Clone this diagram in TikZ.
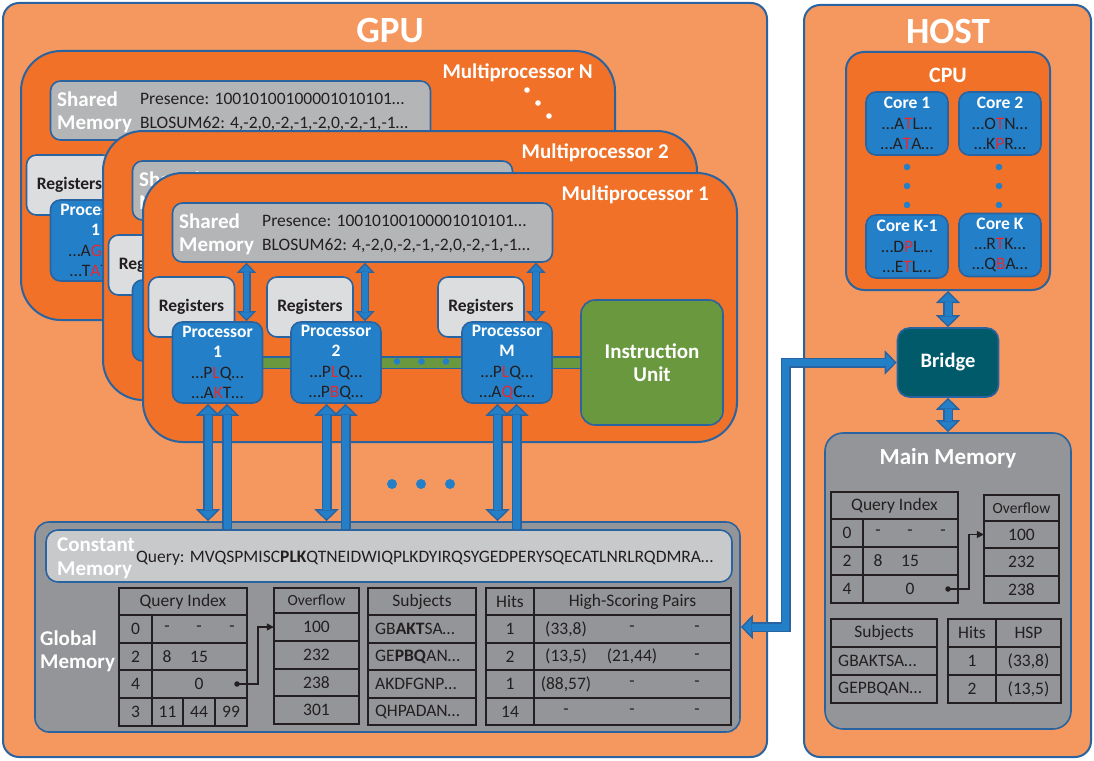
\documentclass[tikz,border=0pt]{standalone}
\usepackage{fontspec}
\setmainfont{Carlito}
\usetikzlibrary{arrows.meta}
\definecolor{panelor}{HTML}{F5985F}
\definecolor{mpor}{HTML}{F17128}
\definecolor{edgeblue}{HTML}{2A64A0}
\definecolor{procblue}{HTML}{2380C8}
\definecolor{shgray}{HTML}{B4B5B7}
\definecolor{reggray}{HTML}{DCDDDF}
\definecolor{memgray}{HTML}{939598}
\definecolor{constgray}{HTML}{C8C9CB}
\definecolor{iugreen}{HTML}{69983E}
\definecolor{bridgeteal}{HTML}{005A6A}
\definecolor{hlred}{HTML}{E8282F}
\definecolor{ink}{HTML}{231F20}
\newcommand{\hl}[1]{\textcolor{hlred}{#1}}
\newcommand{\txtfont}{\fontsize{17.5pt}{20.3pt}\selectfont}
\newcommand{\headfont}{\fontsize{21pt}{23pt}\selectfont\bfseries}
\newcommand{\ofont}{\fontsize{15.5pt}{17pt}\selectfont}
\tikzset{
  bigtip/.tip={Triangle[length=12pt,width=24pt,line width=1.4pt,fill=procblue]},
  smalltip/.tip={Triangle[length=10pt,width=19pt,line width=1.2pt,fill=procblue]},
  box/.style={draw=edgeblue,line width=1.6pt,rounded corners=10pt,inner sep=0pt},
  panel/.style={box,fill=panelor,line width=2pt,rounded corners=16pt},
  mpbox/.style={box,fill=mpor,line width=2pt,rounded corners=40pt,minimum width=594pt,minimum height=269pt},
  shbox/.style={box,fill=shgray,minimum width=380pt,minimum height=59pt},
  regbox/.style={box,fill=reggray,minimum width=86pt,minimum height=60pt,font=\txtfont\bfseries,text=ink},
  procbox/.style={box,fill=procblue,minimum width=90pt,minimum height=81pt,font=\txtfont,text=white,align=center},
  corebox/.style={box,fill=procblue,minimum width=82pt,minimum height=63pt,font=\txtfont,text=white,align=center},
  wtxt/.style={font=\headfont,text=white,inner sep=0pt},
  txt/.style={font=\txtfont,text=ink,inner sep=0pt},
  tline/.style={draw=ink,line width=1.5pt},
  bus/.style={draw=edgeblue,line width=1.5pt,double=iugreen,double distance=10pt},
  ptr/.style={draw=ink,line width=1.5pt,-{Triangle[length=7pt,width=7pt]}},
  pdot/.style={circle,fill=ink,inner sep=0pt,minimum size=5.5pt},
  fat/.style={draw=edgeblue,line width=10pt,-bigtip,postaction={draw=procblue,line width=7pt,-,shorten >=11pt}},
  fatboth/.style={draw=edgeblue,line width=10pt,bigtip-bigtip,postaction={draw=procblue,line width=7pt,-,shorten <=11pt,shorten >=11pt}},
  thinboth/.style={draw=edgeblue,line width=8pt,smalltip-smalltip,postaction={draw=procblue,line width=5.5pt,-,shorten <=9pt,shorten >=9pt}}
}
\begin{document}
\begin{tikzpicture}[x=1pt,y=-1pt]
\path[use as bounding box,fill=white] (0,0) rectangle (1094,760);
\node[panel,minimum width=764pt,minimum height=754pt] (gpu) at (385,380) {};
\node[panel,minimum width=287pt,minimum height=752pt] (host) at (947.5,381) {};
\node[wtxt,font=\fontsize{37pt}{40pt}\selectfont\bfseries] (gputitle) at (390,31) {GPU};
\node[wtxt,font=\fontsize{37pt}{40pt}\selectfont\bfseries] (hosttitle) at (948,31) {HOST};
\foreach \dx/\dy/\lab/\lx/\m/\qa/\qb/\last/\st in {-122/-122/N/715/n/A\hl{G}T/T\hl{A}T/1/1,-40/-42/2/709/b/P\hl{L}Q/A\hl{K}T/1/0,0/0/1/709/a/P\hl{L}Q/A\hl{K}T/3/1}{
  \begin{scope}[shift={(\dx,\dy)}]
    \node[mpbox] (mp\m) at (440,307.5) {};
    \node[wtxt,anchor=east] (mpt\m) at (\lx,195) {Multiprocessor \lab};
    \node[shbox] (sh\m) at (362.5,232.5) {};
    \node[wtxt,anchor=west] (sht\m) at (179,221) {Shared};
    \node[wtxt,anchor=west] (shm\m) at (179,246) {Memory};
    \ifnum\st=1
      \node[txt,anchor=west] (pres\m) at (262,221) {Presence: 10010100100001010101…};
      \node[txt,anchor=west] (blos\m) at (262,246) {BLOSUM62: 4,-2,0,-2,-1,-2,0,-2,-1,-1…};
    \fi
    \coordinate (c\m-1) at (217.5,362.5);
    \coordinate (c\m-iu) at (652,362.5);
    \draw[bus] (c\m-1) -- (c\m-iu);
    \foreach \x in {397,421.5,446}
      \fill[procblue] (\x,361.5) circle (3.3pt);
    \foreach \j/\px/\num/\sa/\sb in {1/217.5/1/\qa/\qb,2/336/2/P\hl{L}Q/P\hl{B}Q,3/507/M/P\hl{L}Q/A\hl{Q}C}{
      \ifnum\j>\last\relax\else
        \node[regbox] (r\m-\j) at (\px-26,307) {Registers};
        \node[procbox] (p\m-\j) at (\px,362.5) {\textbf{Processor}\\\textbf{\num}\\\textcolor{ink}{…\sa…}\\\textcolor{ink}{…\sb…}};
        \draw[thinboth] ([xshift=29pt]p\m-\j.north) -- ([xshift=29pt]p\m-\j.north |- sh\m.south);
      \fi
    }
    \ifnum\last=3
      \node[box,fill=iugreen,rounded corners=14pt,minimum width=142pt,minimum height=125pt,font=\headfont,text=white,align=center] (iu\m) at (c\m-iu) {Instruction\\Unit};
    \fi
  \end{scope}
}
\foreach \x/\y in {527/90,538/103,549/116}
  \fill[white] (\x,\y) circle (2.8pt);
\node[box,fill=memgray,rounded corners=14pt,minimum width=705pt,minimum height=210pt] (gmem) at (387.5,627) {};
\node[box,fill=constgray,rounded corners=12pt,minimum width=686pt,minimum height=52pt] (cmem) at (389,556) {};
\node[wtxt,anchor=west] (cmt) at (57,545) {Constant};
\node[wtxt,anchor=west] (cmm) at (57,570) {Memory};
\node[txt,anchor=west] (query) at (136,558) {Query: MVQSPMISC\textbf{PLK}QTNEIDWIQPLKDYIRQSYGEDPERYSQECATLNRLRQDMRA…};
\node[wtxt,anchor=west] (gmt) at (40,638) {Global};
\node[wtxt,anchor=west] (gmm) at (40,663) {Memory};
\draw[tline] (119,588) rectangle (247,726);
\foreach \y in {615,643,670,698} \draw[tline] (119,\y) -- (247,\y);
\draw[tline] (152,615) -- (152,726) (183,698) -- (183,726) (215,698) -- (215,726);
\node[txt] (gqih) at (183,601.5) {Query Index};
\foreach \y/\k in {629/0,656.5/2,684/4,712/3} \node[txt] (gqk\k) at (135.5,\y) {\k};
\foreach \x in {167,199,232} \node[txt] (gqd\x) at (\x,629) {-};
\node[txt] (gq2a) at (167,656.5) {8};
\node[txt] (gq2b) at (199,656.5) {15};
\node[txt] (gq4a) at (199,684) {0};
\node[pdot] (gqdot) at (237,684) {};
\foreach \x/\v in {167.5/11,199/44,231/99} \node[txt] (gq3\v) at (\x,712) {\v};
\draw[tline] (274,588) rectangle (359,724);
\foreach \y in {613,641,669,696} \draw[tline] (274,\y) -- (359,\y);
\node[txt,font=\ofont] (gofh) at (316.5,600.5) {Overflow};
\foreach \y/\v/\k in {627/100/1,655/232/2,682.5/238/3,710/301/4} \node[txt,minimum width=85pt] (gof\k) at (316.5,\y) {\v};
\draw[ptr] (gqdot.center) -- ++(21,0) |- (gof1.west);
\draw[tline] (368,588) rectangle (476,725);
\foreach \y in {615,643,670,698} \draw[tline] (368,\y) -- (476,\y);
\node[txt] (gsubh) at (422,601.5) {Subjects};
\foreach \y/\s/\k in {629/GB\textbf{AKT}SA…/1,656.5/GE\textbf{PBQ}AN…/2,684/AKDFGNP…/3,712/QHPADAN…/4} \node[txt,anchor=west] (gsub\k) at (375,\y) {\s};
\draw[tline] (486,588) rectangle (731,725);
\foreach \y in {615,643,670,698} \draw[tline] (486,\y) -- (731,\y);
\draw[tline] (534,588) -- (534,725);
\node[txt] (ghith) at (510,601.5) {Hits};
\node[txt] (ghsph) at (632.5,601.5) {High-Scoring Pairs};
\foreach \y/\h/\a/\b/\c/\k in {629/1/{(33,8)}/-/-/1,656.5/2/{(13,5)}/{(21,44)}/-/2,684/1/{(88,57)}/-/-/3,712/14/-/-/-/4}{
  \node[txt] (gh\k) at (510,\y) {\h};
  \node[txt] (gha\k) at (566,\y) {\a};
  \node[txt] (ghb\k) at (632,\y) {\b};
  \node[txt] (ghc\k) at (697,\y) {\c};
}
\foreach \j in {1,2,3}{
  \draw[fatboth] ([xshift=-9.5pt]pa-\j.south) -- ([xshift=-9.5pt]pa-\j.south |- gmem.north);
  \draw[fat] ([xshift=9.5pt]pa-\j.south |- cmem.north) -- ([xshift=9.5pt]pa-\j.south);
}
\foreach \x in {392,421,450} \fill[procblue] (\x,484) circle (5pt);
\node[box,fill=mpor,line width=2pt,rounded corners=18pt,minimum width=204pt,minimum height=238pt] (cpu) at (948,171) {};
\node[wtxt,font=\fontsize{22pt}{24pt}\selectfont\bfseries] (cput) at (948,75) {CPU};
\node[corebox] (core1) at (907,123.5) {\textbf{Core 1}\\\textcolor{ink}{…A\hl{T}L…}\\\textcolor{ink}{…A\hl{T}A…}};
\node[corebox] (core2) at (1000,123.5) {\textbf{Core 2}\\\textcolor{ink}{…O\hl{T}N…}\\\textcolor{ink}{…K\hl{P}R…}};
\node[corebox] (corek1) at (907,246.5) {\textbf{Core K-1}\\\textcolor{ink}{…D\hl{P}L…}\\\textcolor{ink}{…E\hl{T}L…}};
\node[corebox] (corek) at (1000,245) {\textbf{Core K}\\\textcolor{ink}{…R\hl{T}K…}\\\textcolor{ink}{…Q\hl{B}A…}};
\foreach \x in {907,999} \foreach \y in {167,186,205} \fill[procblue] (\x,\y) circle (3.3pt);
\node[box,fill=bridgeteal,rounded corners=12pt,minimum width=101pt,minimum height=69pt,font=\fontsize{20.5pt}{22pt}\selectfont\bfseries,text=white] (bridge) at (948,362.5) {Bridge};
\node[box,fill=memgray,rounded corners=18pt,minimum width=246pt,minimum height=296pt] (mmem) at (948,581) {};
\node[wtxt,font=\fontsize{23pt}{25pt}\selectfont\bfseries] (mmt) at (948,458) {Main Memory};
\draw[fatboth] (bridge.north) -- (bridge.north |- cpu.south);
\draw[fatboth] (bridge.south) -- (bridge.south |- mmem.north);
\draw[fatboth] (gmem.east) -- ++(45,0) |- (bridge.west);
\draw[tline] (831,492) rectangle (958,603);
\foreach \y in {519,547,575} \draw[tline] (831,\y) -- (958,\y);
\draw[tline] (863,519) -- (863,603);
\node[txt] (mqih) at (894.5,505.5) {Query Index};
\foreach \y/\k in {533/0,561/2,589/4} \node[txt] (mqk\k) at (847,\y) {\k};
\foreach \x in {878,910,943} \node[txt] (mqd\x) at (\x,533) {-};
\node[txt] (mq2a) at (878,561) {8};
\node[txt] (mq2b) at (910,561) {15};
\node[txt] (mq4a) at (910,589) {0};
\node[pdot] (mqdot) at (948,589) {};
\draw[tline] (984,495) rectangle (1059,603);
\foreach \y in {521,548,576} \draw[tline] (984,\y) -- (1059,\y);
\node[txt,font=\ofont] (mofh) at (1021.5,508) {Overflow};
\foreach \y/\v/\k in {534.5/100/1,562/232/2,589.5/238/3} \node[txt,minimum width=75pt] (mof\k) at (1021.5,\y) {\v};
\draw[ptr] (mqdot.center) -- ++(21,0) |- (mof1.west);
\draw[tline] (831,619) rectangle (937,703);
\foreach \y in {647,675} \draw[tline] (831,\y) -- (937,\y);
\node[txt] (msubh) at (884,633) {Subjects};
\node[txt,anchor=west] (msub1) at (838,661) {GBAKTSA…};
\node[txt,anchor=west] (msub2) at (838,689) {GEPBQAN…};
\draw[tline] (948,619) rectangle (1061,703);
\foreach \y in {647,675} \draw[tline] (948,\y) -- (1061,\y);
\draw[tline] (996,619) -- (996,703);
\node[txt] (mhith) at (972,633) {Hits};
\node[txt] (mhsph) at (1028.5,633) {HSP};
\node[txt] (mh1) at (972,661) {1};
\node[txt] (mha1) at (1028.5,661) {(33,8)};
\node[txt] (mh2) at (972,689) {2};
\node[txt] (mha2) at (1028.5,689) {(13,5)};
\end{tikzpicture}
\end{document}
